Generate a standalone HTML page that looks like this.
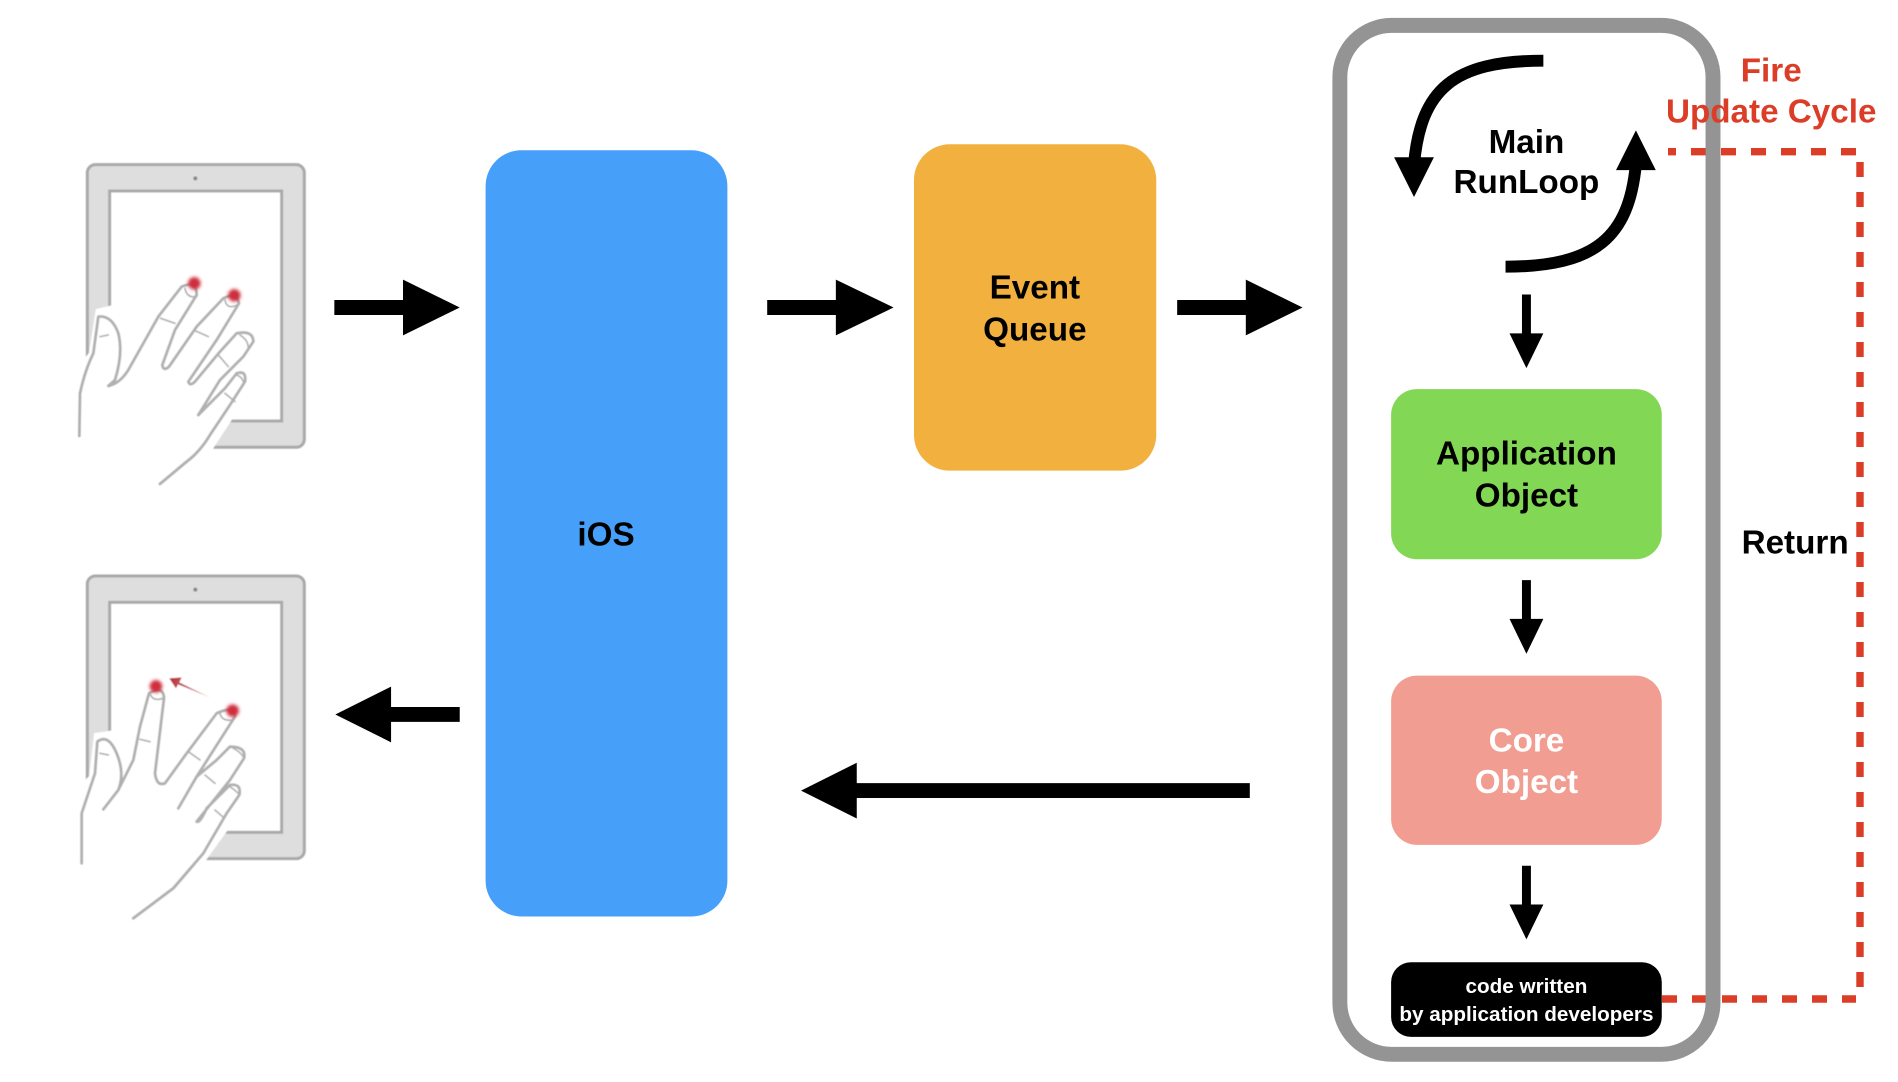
<!DOCTYPE html>
<html><head><meta charset="utf-8"><style>
html,body{margin:0;padding:0;background:#fff;width:1898px;height:1082px;overflow:hidden}
svg{display:block}
text{font-family:"Liberation Sans",Arial,sans-serif;font-size:33.4px;font-weight:bold;text-anchor:middle;fill:#000}
.hand{fill:none;stroke:#b0b0b0;stroke-width:8.500;stroke-linecap:round;stroke-linejoin:round}
</style></head><body>
<svg width="1898" height="1082" viewBox="0 0 1898 1082" xmlns="http://www.w3.org/2000/svg">
<defs>
<filter id="b" x="-5%" y="-5%" width="110%" height="110%"><feGaussianBlur stdDeviation="1.6"/></filter>
<filter id="d" x="-50%" y="-50%" width="200%" height="200%"><feGaussianBlur stdDeviation="5"/></filter>
<linearGradient id="rg" gradientUnits="userSpaceOnUse" x1="395" y1="355" x2="510" y2="410"><stop offset="0" stop-color="#b8333f"/><stop offset="1" stop-color="#e8b0b0"/></linearGradient>
</defs>

<!-- tablet 1 -->
<g transform="translate(40,140) scale(.3333)" filter="url(#b)">
<rect x="142" y="74" width="651" height="848" rx="24" fill="#dedede" stroke="#a9a9a9" stroke-width="9"/>
<rect x="209" y="153" width="516" height="690" fill="#fff" stroke="#a9a9a9" stroke-width="9"/>
<circle cx="466" cy="115" r="6" fill="#888"/>
<path d="M110,1000L110,690L150,640L170,510L212,500L240,700L575,835L510,935Z" fill="#fff" stroke="#fff" stroke-width="6"/>
<path class="hand" d="M118,888L120,760Q135,690 160,640L175,530Q215,525 235,580Q250,640 225,720L205,738Q240,730 265,690L355,530L425,440Q470,420 470,465L405,570L367,675Q370,695 387,680L470,560L550,475Q590,455 597,490L530,600L445,725Q450,740 465,725L540,635L590,580Q640,570 640,605L610,650L540,720L475,825"/>
<path class="hand" d="M475,825L555,745L590,700Q620,690 615,725L570,795L510,885Q480,935 440,965L360,1032"/>
<path class="hand" style="stroke-width:5" d="M435,445Q440,475 470,470M555,480Q560,510 592,495M600,585Q625,600 625,625M590,705Q605,710 610,725M362,535L405,550M465,572L505,590M535,645L565,680M555,760L585,785M180,590L205,585"/>
<g filter="url(#d)"><circle cx="463" cy="430" r="19" fill="#cf2f3d"/><circle cx="583" cy="466" r="19" fill="#cf2f3d"/></g>
</g>

<!-- tablet 2 -->
<g transform="translate(40,560) scale(.3333)" filter="url(#b)">
<rect x="142" y="48" width="651" height="848" rx="24" fill="#dedede" stroke="#a9a9a9" stroke-width="9"/>
<rect x="209" y="127" width="516" height="690" fill="#fff" stroke="#a9a9a9" stroke-width="9"/>
<circle cx="466" cy="89" r="6" fill="#888"/>
<path d="M110,1050L110,690L150,650L165,522L212,515L240,700L560,810L495,900Z" fill="#fff" stroke="#fff" stroke-width="6"/>
<path d="M510,412L418,367L425,352L388,355L408,385L414,373Z" fill="url(#rg)"/>
<path class="hand" d="M125,910L125,760L165,640L172,545Q205,520 230,580Q255,640 235,690L190,748M235,690L280,600L300,500L327,400Q370,375 372,415L345,640Q350,680 375,670L440,580L530,460Q585,435 585,470L540,540L470,650L415,745"/>
<path class="hand" d="M470,650L530,600L570,560Q620,560 612,595L570,660L470,785Q480,790 500,745L570,675Q605,670 598,705L560,760L490,880L400,985L280,1075"/>
<path class="hand" style="stroke-width:5" d="M332,405Q340,425 370,415M540,460Q545,485 580,480M580,565Q600,575 610,590M570,680Q585,690 595,700M300,538L330,545M445,575L480,600M495,645L525,670M525,750L550,772M180,580L205,585"/>
<g filter="url(#d)"><circle cx="348" cy="379" r="19" fill="#cf2f3d"/><circle cx="578" cy="452" r="19" fill="#cf2f3d"/></g>
</g>

<!-- red dashed (true coordinates) -->
<g>
<path d="M1668,151.700h8M1691,151.700h15M1721,151.700h15M1751,151.700h15M1781,151.700h15M1811,151.700h15M1841,151.700h15" stroke="#dc3d27" stroke-width="7.400" fill="none"/>
<path d="M1860,162V987.700" fill="none" stroke="#dc3d27" stroke-width="7.400" stroke-dasharray="15 15"/>
<path d="M1662,999H1856" fill="none" stroke="#dc3d27" stroke-width="7.400" stroke-dasharray="15 15"/>
</g>

<g transform="scale(.99507)">
<!-- boxes -->
<rect x="488" y="151" width="243" height="770" rx="36" fill="#469ff9"/>
<rect x="918.500" y="145" width="243.500" height="328" rx="36" fill="#f2b13f"/>
<rect x="1346.500" y="25.500" width="375" height="1034" rx="52" fill="none" stroke="#949494" stroke-width="15"/>
<rect x="1398" y="391" width="272" height="171" rx="26" fill="#82d854"/>
<rect x="1398" y="679" width="272" height="170" rx="26" fill="#f29d92"/>
<rect x="1398" y="967" width="272" height="75" rx="20" fill="#000"/>

<!-- big arrows -->
<path d="M336,301.500H405V281L462,309L405,337V316.500H336Z"/>
<path d="M771,301.500H840V281L898,309L840,337V316.500H771Z"/>
<path d="M1183,301.500H1252V281L1309,309L1252,337V316.500H1183Z"/>
<path d="M462,710.500H393V690L337,718L393,746V725.500H462Z"/>
<path d="M1256,787H861V766.500L805,794.500L861,822.500V802H1256Z"/>

<!-- small down arrows -->
<path d="M1529.500,296H1538.500V335H1551L1534,370L1517,335H1529.500Z"/>
<path d="M1529.500,583H1538.500V622H1551L1534,657L1517,622H1529.500Z"/>
<path d="M1529.500,870H1538.500V909H1551L1534,944L1517,909H1529.500Z"/>

<!-- curved arrows -->
<path d="M1551,61C1460,61 1428,90 1421,165" fill="none" stroke="#000" stroke-width="12"/>
<path d="M1401,158H1441L1421,198Z"/>
<path d="M1513,268C1604,268 1637,238 1644,165" fill="none" stroke="#000" stroke-width="12"/>
<path d="M1624,171H1664L1644,131Z"/>

<!-- labels -->
<text x="609" y="548">iOS</text>
<text x="1040" y="300">Event</text>
<text x="1040" y="342">Queue</text>
<text x="1534" y="154">Main</text>
<text x="1534" y="194">RunLoop</text>
<text x="1534" y="467">Application</text>
<text x="1534" y="509">Object</text>
<text x="1534" y="755" style="fill:#fff">Core</text>
<text x="1534" y="797" style="fill:#fff">Object</text>
<text x="1534" y="998" style="fill:#fff;font-size:20.800px">code written</text>
<text x="1534" y="1026" style="fill:#fff;font-size:20.800px">by application developers</text>
<text x="1780" y="82" style="fill:#dc3d27">Fire</text>
<text x="1780" y="123" style="fill:#dc3d27">Update Cycle</text>
<text x="1804" y="556">Return</text>
</g>
</svg>
</body></html>
